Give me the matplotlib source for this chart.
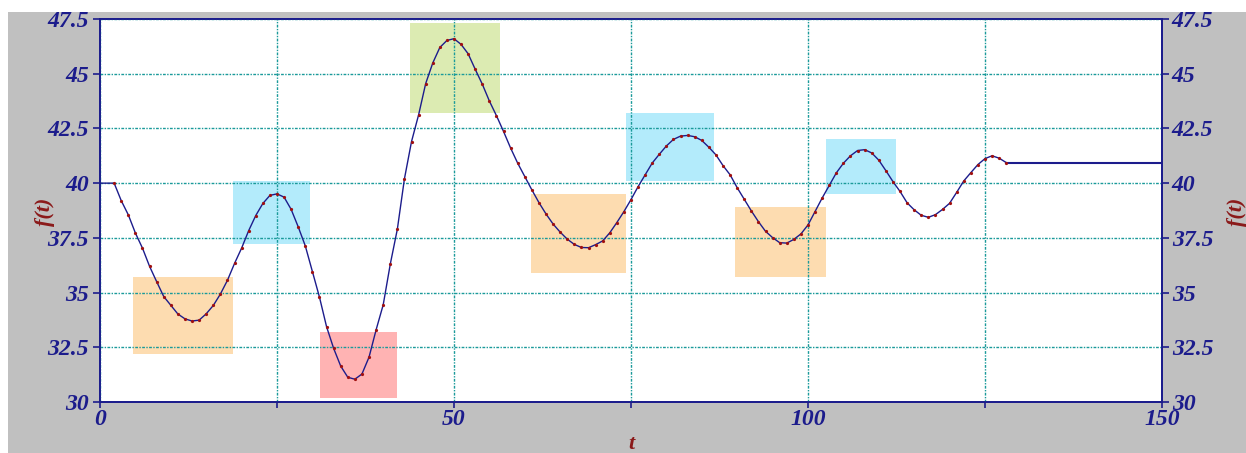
import numpy as np
import matplotlib
matplotlib.use("Agg")
import matplotlib.pyplot as plt
from matplotlib.patches import Rectangle

t = [0, 2, 3, 4, 5, 6, 7, 8, 9, 10, 11, 12, 13, 14, 15, 16, 17, 18, 19, 20,
     21, 22, 23, 24, 25, 26, 27, 28, 29, 30, 31, 32, 33, 34, 35, 36, 37, 38, 39, 40,
     41, 42, 43, 44, 45, 46, 47, 48, 49, 50, 51, 52, 53, 54, 55, 56, 57, 58, 59, 60,
     61, 62, 63, 64, 65, 66, 67, 68, 69, 70, 71, 72, 73, 74, 75, 76, 77, 78, 79, 80,
     81, 82, 83, 84, 85, 86, 87, 88, 89, 90, 91, 92, 93, 94, 95, 96, 97, 98, 99, 100,
     101, 102, 103, 104, 105, 106, 107, 108, 109, 110, 111, 112, 113, 114, 115, 116,
     117, 118, 119, 120, 121, 122, 123, 124, 125, 126, 127, 128]
f = [40.0, 40.0, 39.2, 38.55, 37.72, 37.03, 36.2, 35.5, 34.82, 34.42, 34.02, 33.8, 33.7,
     33.74, 34.03, 34.41, 34.93, 35.56, 36.33, 37.03, 37.83, 38.52, 39.07, 39.44, 39.51,
     39.36, 38.8, 38.0, 37.13, 35.96, 34.79, 33.44, 32.45, 31.64, 31.13, 31.04, 31.28,
     32.05, 33.3, 34.44, 36.3, 37.9, 40.2, 41.9, 43.12, 44.55, 45.49, 46.2, 46.52, 46.6,
     46.34, 45.91, 45.2, 44.52, 43.75, 43.08, 42.36, 41.6, 40.91, 40.3, 39.69, 39.11,
     38.59, 38.13, 37.76, 37.44, 37.2, 37.06, 37.05, 37.19, 37.36, 37.73, 38.2, 38.7,
     39.25, 39.84, 40.38, 40.92, 41.32, 41.7, 42.0, 42.15, 42.18, 42.12, 41.95, 41.64,
     41.29, 40.8, 40.38, 39.79, 39.26, 38.73, 38.24, 37.8, 37.51, 37.28, 37.26, 37.43,
     37.68, 38.09, 38.7, 39.32, 39.9, 40.47, 40.91, 41.25, 41.49, 41.53, 41.38, 41.05,
     40.57, 40.07, 39.62, 39.1, 38.78, 38.53, 38.44, 38.56, 38.8, 39.08, 39.58, 40.1,
     40.48, 40.85, 41.12, 41.25, 41.14, 40.94]
t_tail = [128, 150]
f_tail = [40.94, 40.94]

# highlighted regions
box_t0 = [4.7, 18.8, 31.1, 43.8, 60.9, 74.3, 89.7, 102.5]
box_t1 = [18.8, 29.7, 42.0, 56.5, 74.3, 86.7, 102.5, 112.4]
box_lo = [32.2, 37.2, 30.2, 43.2, 35.9, 40.1, 35.7, 39.5]
box_hi = [35.7, 40.1, 33.2, 47.3, 39.5, 43.2, 38.9, 42.0]
box_col = ["#fddcb0", "#b3ebfb", "#ffb3b3", "#dcebb2",
           "#fddcb0", "#b3ebfb", "#fddcb0", "#b3ebfb"]

y_ticks = [30, 32.5, 35, 37.5, 40, 42.5, 45, 47.5]
y_labels = ["30", "32.5", "35", "37.5", "40", "42.5", "45", "47.5"]
x_ticks = [0, 50, 100, 150]

navy = "#1c1c8c"
dred = "#8b1a1a"
grid_c = "#1a9a9a"
tick_font = dict(family="Liberation Serif", weight="bold", style="italic", size=17, color=navy)

fig = plt.figure(figsize=(12.46, 4.53), dpi=100)
fig.patches.append(Rectangle((8 / 1246, 0), 1, 441 / 453, transform=fig.transFigure,
                             facecolor="#c0c0c0", edgecolor="none", zorder=-10))

ax = fig.add_axes([100 / 1246, 51 / 453, 1062 / 1246, 383 / 453])
ax.set_facecolor("white")
ax.set_xlim(0, 150)
ax.set_ylim(30, 47.5)

for a, b, lo, hi, c in zip(box_t0, box_t1, box_lo, box_hi, box_col):
    ax.add_patch(Rectangle((a, lo), b - a, hi - lo, facecolor=c, edgecolor="none", zorder=1))

ax.set_xticks(x_ticks)
ax.set_xticks([25, 75, 125], minor=True)
ax.set_yticks(y_ticks)
ax.set_yticklabels(y_labels, fontdict=tick_font)
ax.set_xticklabels([str(v) for v in x_ticks], fontdict=tick_font)
ax.grid(True, which="both", axis="x", color=grid_c, lw=1, linestyle=(0, (2, 1, 1, 1)), zorder=2)
ax.grid(True, axis="y", color=grid_c, lw=1, linestyle=(0, (2, 1, 1, 1)), zorder=2)
ax.set_axisbelow(False)
ax.tick_params(axis="both", which="both", direction="out", length=5, width=1.2, color=navy)
ax.tick_params(axis="x", which="both", length=4, pad=1)
ax.tick_params(axis="y", pad=3)
for s in ax.spines.values():
    s.set_color(navy)
    s.set_linewidth(1.3)

ax.plot(t, f, color=navy, lw=1.0, zorder=4)
ax.plot(t[1:], f[1:], linestyle="none", marker="o", ms=1.3, color="#a01010", zorder=5)
ax.plot(t_tail, f_tail, color=navy, lw=1.5, zorder=4)

ax2 = ax.twinx()
ax2.set_ylim(30, 47.5)
ax2.set_yticks(y_ticks)
ax2.set_yticklabels(y_labels, fontdict=tick_font)
ax2.tick_params(axis="y", direction="out", length=5, width=1.2, color=navy, pad=2)
for s in ax2.spines.values():
    s.set_color(navy)
    s.set_linewidth(1.3)

lab_font = dict(family="Liberation Serif", weight="bold", style="italic", size=16, color=dred)
fig.text(45 / 1246, 1 - 212 / 453, "f(t)", rotation=90, ha="center", va="center", **lab_font)
fig.text(1237 / 1246, 1 - 212 / 453, "f(t)", rotation=90, ha="center", va="center", **lab_font)
fig.text(631 / 1246, 1 - 444 / 453, "t", ha="center", va="center", **lab_font)

fig.savefig("out.png", dpi=100)
